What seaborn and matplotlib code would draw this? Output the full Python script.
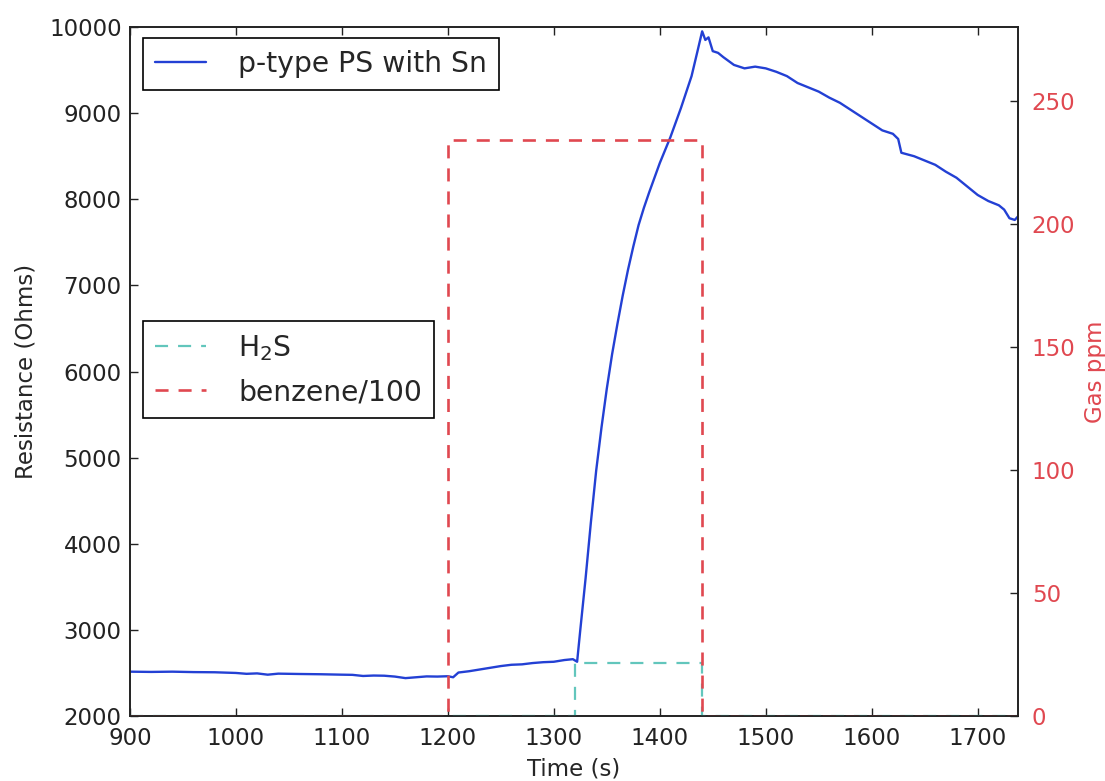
import numpy as np
import pandas as pd
import matplotlib
matplotlib.use("Agg")
import matplotlib.pyplot as plt
import seaborn as sns

# ---- data ----
time_s = [900, 920, 940, 960, 980, 1000, 1010, 1020, 1030, 1040, 1060, 1080, 1100, 1110,
          1120, 1130, 1140, 1150, 1160, 1170, 1180, 1190, 1200, 1205, 1210, 1220, 1230,
          1240, 1250, 1260, 1270, 1280, 1290, 1300, 1310, 1318, 1322, 1325, 1330, 1335,
          1340, 1345, 1350, 1355, 1360, 1365, 1370, 1375, 1380, 1385, 1390, 1400, 1410,
          1420, 1430, 1436, 1440, 1443, 1446, 1450, 1455, 1460, 1470, 1480, 1490, 1500,
          1510, 1520, 1530, 1540, 1550, 1560, 1570, 1580, 1590, 1600, 1610, 1620, 1625,
          1628, 1640, 1650, 1660, 1670, 1680, 1690, 1700, 1710, 1720, 1725, 1730, 1735, 1738]
resistance = [2515, 2512, 2515, 2510, 2508, 2500, 2490, 2495, 2480, 2492, 2488, 2485, 2480, 2478,
              2465, 2470, 2468, 2458, 2440, 2450, 2460, 2458, 2462, 2450, 2505, 2520, 2540,
              2560, 2580, 2595, 2600, 2615, 2625, 2630, 2650, 2660, 2630, 3000, 3600, 4250,
              4850, 5350, 5800, 6200, 6550, 6880, 7180, 7450, 7700, 7900, 8080, 8420, 8720,
              9060, 9430, 9740, 9950, 9850, 9880, 9720, 9700, 9650, 9560, 9520, 9540, 9520,
              9480, 9430, 9350, 9300, 9250, 9180, 9120, 9040, 8960, 8880, 8800, 8760, 8700,
              8540, 8500, 8450, 8400, 8320, 8250, 8150, 8050, 7980, 7930, 7880, 7780, 7760, 7800]

h2s_time = [900, 1320, 1320, 1440, 1440, 1738]
h2s_ppm = [0, 0, 21.5, 21.5, 0, 0]
benz_time = [900, 1200, 1200, 1440, 1440, 1738]
benz_ppm = [0, 0, 234, 234, 0, 0]

sns.set_style("ticks")
plt.rcParams['font.family'] = ['DejaVu Sans']
plt.rcParams['xtick.direction'] = 'in'
plt.rcParams['ytick.direction'] = 'in'
plt.rcParams['lines.scale_dashes'] = False

fig = plt.figure(figsize=(11.05, 7.81), dpi=100)
ax = fig.add_axes([0.1176, 0.0832, 0.8036, 0.8822])
ax2 = ax.twinx()

blue = '#2340d4'
red = '#e04850'
cyan = '#62c6bc'
dash = (0, (9.4, 7.2))

FS = 16.5
LFS = 20.3

df_r = pd.DataFrame({'t': time_s, 'r': resistance})
sns.lineplot(data=df_r, x='t', y='r', ax=ax, color=blue, lw=1.7,
             estimator=None, sort=False, label='p-type PS with Sn')

df_h = pd.DataFrame({'t': h2s_time, 'g': h2s_ppm})
df_b = pd.DataFrame({'t': benz_time, 'g': benz_ppm})
sns.lineplot(data=df_h, x='t', y='g', ax=ax2, color=cyan, lw=1.6,
             estimator=None, sort=False, label='H$_2$S', dashes=False, linestyle=dash)
sns.lineplot(data=df_b, x='t', y='g', ax=ax2, color=red, lw=1.9,
             estimator=None, sort=False, label='benzene/100', dashes=False, linestyle=dash)

ax.set_xlim(900, 1738)
ax.set_ylim(2000, 10000)
ax2.set_ylim(0, 280)
ax.set_xticks(range(900, 1701, 100))
ax.set_yticks(range(2000, 10001, 1000))
ax2.set_yticks(range(0, 251, 50))

ax.set_xlabel('Time (s)', fontsize=FS, labelpad=5)
ax.set_ylabel('Resistance (Ohms)', fontsize=FS, labelpad=8)
ax2.set_ylabel('Gas ppm', fontsize=FS, color=red, labelpad=6)

ax.tick_params(axis='both', labelsize=FS, length=6, width=1, colors='#222222',
               top=True, right=False, direction='in', pad=6)
ax.tick_params(axis='x', pad=8)
ax2.tick_params(axis='y', labelsize=FS, length=6, width=1, direction='in',
                colors='#222222', labelcolor=red, pad=10)
for a in (ax, ax2):
    for s in a.spines.values():
        s.set_color('#222222')
        s.set_linewidth(1.2)

leg_kw = dict(fontsize=LFS, fancybox=False, edgecolor='black', framealpha=1,
              handlelength=1.8, handletextpad=1.15, borderpad=0.42,
              borderaxespad=0, labelspacing=0.55)
leg1 = ax.legend(loc='upper left', bbox_to_anchor=(0.0146, 0.984), **leg_kw)
leg1.get_frame().set_linewidth(1.2)
leg2 = ax2.legend(loc='center left', bbox_to_anchor=(0.0146, 0.503), **leg_kw)
leg2.get_frame().set_linewidth(1.2)

fig.savefig('out.png', dpi=100)
